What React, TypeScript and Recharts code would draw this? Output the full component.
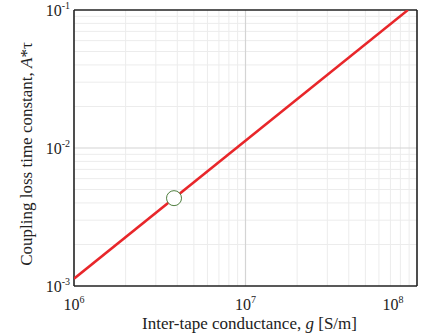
import { ComposedChart, Line, Scatter, XAxis, YAxis, ReferenceLine, Label } from 'recharts';

const xDecades = [1e6, 1e7, 1e8];
const yDecades = [1e-3, 1e-2, 1e-1];
const minorSteps = [2, 3, 4, 5, 6, 7, 8, 9];

const lineG = [1e6, 8.85e7];
const lineTau = [1.13e-3, 0.1];
const markerG = [3.83e6];
const markerTau = [4.33e-3];

const lineData = lineG.map((g, i) => ({ g, tau: lineTau[i] }));
const markerData = markerG.map((g, i) => ({ g, tau: markerTau[i] }));

const xMinor = xDecades.slice(0, -1).flatMap((d) => minorSteps.map((m) => d * m));
const yMinor = yDecades.slice(0, -1).flatMap((d) => minorSteps.map((m) => d * m));
const xInner = xDecades.slice(1, -1);
const yInner = yDecades.slice(1, -1);
const xEdges = [xDecades[0], xDecades[xDecades.length - 1]];
const yEdges = [yDecades[0], yDecades[yDecades.length - 1]];

const font = '"Liberation Serif", "Times New Roman", serif';

function PowTick({ x, y, payload, anchor, dy }: any) {
  const exp = Math.round(Math.log10(payload.value));
  return (
    <text x={x} y={y} dy={dy} textAnchor={anchor} fill="#222" fontFamily={font} fontSize={16}>
      <tspan>10</tspan>
      <tspan dy={-7} fontSize={10}>{exp}</tspan>
    </text>
  );
}

export default function App() {
  return (
    <div style={{ position: 'absolute', left: 0, top: 0 }}>
      <ComposedChart width={429} height={336} margin={{ top: 10, right: 12, bottom: 0, left: 0 }}>
        <XAxis
          dataKey="g"
          type="number"
          scale="log"
          domain={[1e6, 1e8]}
          ticks={xDecades}
          allowDataOverflow
          height={50}
          axisLine={false}
          tickLine={false}
          tick={(p: any) => <PowTick {...p} anchor="middle" dy={16} />}
        >
          <Label
            content={(p: any) => {
              const vb = p.viewBox;
              return (
                <text x={vb.x + vb.width / 2 + 4} y={vb.y + 43} textAnchor="middle" fill="#222" fontFamily={font} fontSize={17}>
                  Inter-tape conductance, <tspan fontStyle="italic">g</tspan> [S/m]
                </text>
              );
            }}
          />
        </XAxis>
        <YAxis
          dataKey="tau"
          type="number"
          scale="log"
          domain={[1e-3, 1e-1]}
          ticks={yDecades}
          allowDataOverflow
          width={74}
          axisLine={false}
          tickLine={false}
          tick={(p: any) => <PowTick {...p} x={p.x + 4} anchor="end" dy={6} />}
        >
          <Label
            content={(p: any) => {
              const vb = p.viewBox;
              const cx = 26;
              const cy = vb.y + vb.height / 2 + 6;
              return (
                <text
                  x={cx}
                  y={cy}
                  transform={`rotate(-90 ${cx} ${cy})`}
                  textAnchor="middle"
                  dominantBaseline="central"
                  fill="#222"
                  fontFamily={font}
                  fontSize={17}
                >
                  Coupling loss time constant, <tspan fontStyle="italic">A</tspan>*τ
                </text>
              );
            }}
          />
        </YAxis>
        {xMinor.map((v) => (
          <ReferenceLine key={'xm' + v} x={v} stroke="#ececec" strokeWidth={1} />
        ))}
        {yMinor.map((v) => (
          <ReferenceLine key={'ym' + v} y={v} stroke="#ececec" strokeWidth={1} />
        ))}
        {xInner.map((v) => (
          <ReferenceLine key={'xM' + v} x={v} stroke="#d4d4d4" strokeWidth={1.2} />
        ))}
        {yInner.map((v) => (
          <ReferenceLine key={'yM' + v} y={v} stroke="#d4d4d4" strokeWidth={1.2} />
        ))}
        {xEdges.map((v) => (
          <ReferenceLine key={'xE' + v} x={v} stroke="#222" strokeWidth={1.6} />
        ))}
        {yEdges.map((v) => (
          <ReferenceLine key={'yE' + v} y={v} stroke="#222" strokeWidth={1.6} />
        ))}
        <Line
          data={lineData}
          dataKey="tau"
          stroke="#e8262a"
          strokeWidth={2.5}
          dot={false}
          isAnimationActive={false}
        />
        <Scatter
          data={markerData}
          dataKey="tau"
          isAnimationActive={false}
          shape={(p: any) => <circle cx={p.cx} cy={p.cy} r={7.5} fill="#fff" stroke="#4f7f3f" strokeWidth={1} />}
        />
      </ComposedChart>
    </div>
  );
}
